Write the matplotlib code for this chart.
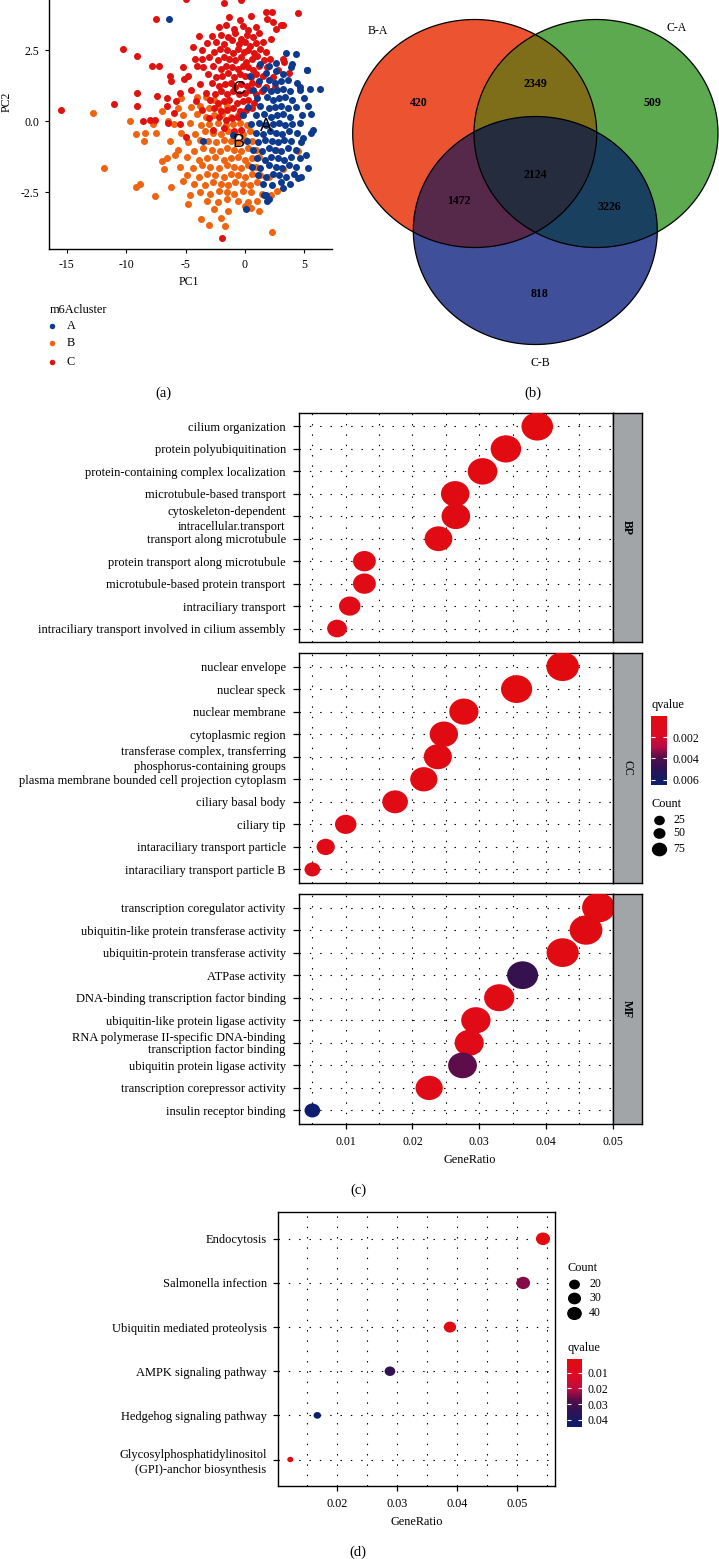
import numpy as np
import matplotlib
matplotlib.use("Agg")
import matplotlib.pyplot as plt
from matplotlib.path import Path
from matplotlib.patches import Polygon
from matplotlib.colors import LinearSegmentedColormap, Normalize
from matplotlib.cm import ScalarMappable

plt.rcParams['font.family'] = ['Liberation Serif', 'DejaVu Serif']

# ---------------- data ----------------
# (a) PCA scores
pca_a = np.array([
    (3.5, 2.4), (4.3, 2.35), (1.3, 2.0), (2.0, 1.95), (2.6, 2.05), (4.0, 2.0),
    (1.8, 1.7), (2.6, 1.75), (3.2, 1.65), (5.2, 1.8),
    (1.2, 1.4), (2.0, 1.45), (2.5, 1.35), (3.0, 1.4), (3.6, 1.45), (4.4, 1.35),
    (0.7, 1.1), (1.6, 1.15), (2.2, 1.05), (2.7, 1.1), (3.2, 1.15), (3.8, 1.05), (4.6, 1.1), (5.5, 1.15), (6.3, 1.15),
    (1.0, 0.8), (1.9, 0.85), (2.4, 0.75), (2.9, 0.8), (3.4, 0.85), (4.0, 0.75), (5.0, 0.8),
    (0.3, 0.5), (1.3, 0.55), (2.0, 0.45), (2.5, 0.5), (3.0, 0.55), (3.6, 0.45), (4.3, 0.5), (5.3, 0.55),
    (0.9, 0.2), (1.6, 0.25), (2.2, 0.15), (2.7, 0.2), (3.2, 0.25), (3.8, 0.15), (4.8, 0.2), (5.6, 0.25),
    (0.5, -0.1), (1.2, -0.05), (1.8, -0.15), (2.4, -0.1), (2.9, -0.05), (3.4, -0.15), (4.0, -0.1), (4.6, -0.05),
    (0.9, -0.4), (1.5, -0.45), (2.1, -0.35), (2.6, -0.4), (3.1, -0.45), (3.7, -0.35), (4.4, -0.4), (5.7, -0.3),
    (0.2, -0.7), (1.1, -0.75), (1.7, -0.65), (2.3, -0.7), (2.8, -0.75), (3.3, -0.65), (3.9, -0.7), (4.7, -0.75),
    (0.7, -1.0), (1.4, -1.05), (2.0, -0.95), (2.5, -1.0), (3.0, -1.05), (3.6, -0.95), (4.3, -1.0), (5.1, -1.2),
    (1.0, -1.3), (1.7, -1.35), (2.2, -1.25), (2.8, -1.3), (3.3, -1.35), (3.9, -1.25), (4.6, -1.3),
    (0.6, -1.6), (1.3, -1.65), (2.0, -1.55), (2.6, -1.6), (3.1, -1.65), (3.7, -1.55), (4.3, -1.6), (5.3, -1.65),
    (1.1, -1.9), (1.8, -1.95), (2.4, -1.85), (2.9, -1.9), (3.5, -1.95), (4.1, -1.85), (4.7, -1.95),
    (1.5, -2.2), (2.3, -2.25), (3.0, -2.15), (3.8, -2.2), (4.5, -2.0),
    (1.6, -2.6), (2.0, -2.75), (3.2, -2.35), (1.9, -2.8),
    (-6.4, 3.6), (-3.5, -0.7), (0.1, -3.1), (-1.0, -0.5), (-0.2, 0.2), (0.4, 1.6),
    (5.2, 1.8), (1.8, -2.6), (5.6, -0.4), (4.9, -0.6), (3.9, 1.9), (4.6, 1.2),
])
pca_b = np.array([
    (-3.3, 0.85), (-2.6, 0.75), (-5.4, 0.8),
    (-4.5, 0.5), (-3.8, 0.55), (-3.0, 0.45), (-2.3, 0.5), (-1.5, 0.55),
    (-5.2, 0.2), (-4.0, 0.25), (-3.3, 0.15), (-2.6, 0.2), (-1.9, 0.25), (-1.2, 0.15), (-0.6, 0.2),
    (-6.0, -0.1), (-4.6, -0.05), (-3.7, -0.15), (-3.0, -0.1), (-2.3, -0.05), (-1.6, -0.15), (-1.0, -0.1), (-0.4, -0.05), (0.2, -0.15),
    (-5.4, -0.4), (-4.2, -0.45), (-3.4, -0.35), (-2.7, -0.4), (-2.0, -0.45), (-1.4, -0.35), (-0.8, -0.4), (-0.2, -0.45), (0.4, -0.35),
    (-6.3, -0.7), (-4.8, -0.75), (-3.8, -0.65), (-3.1, -0.7), (-2.4, -0.75), (-1.8, -0.65), (-1.2, -0.7), (-0.6, -0.75), (0.0, -0.65), (0.6, -0.7),
    (-5.6, -1.0), (-4.3, -1.05), (-3.5, -0.95), (-2.8, -1.0), (-2.1, -1.05), (-1.5, -0.95), (-0.9, -1.0), (-0.3, -1.05), (0.3, -0.95), (0.9, -1.0),
    (-6.6, -1.3), (-4.9, -1.25), (-3.9, -1.35), (-3.2, -1.3), (-2.5, -1.25), (-1.8, -1.35), (-1.2, -1.3), (-0.6, -1.25), (0.0, -1.35), (0.6, -1.3), (1.2, -1.25),
    (-5.5, -1.6), (-4.4, -1.65), (-3.6, -1.55), (-2.9, -1.6), (-2.2, -1.65), (-1.5, -1.55), (-0.9, -1.6), (-0.3, -1.65), (0.3, -1.55), (0.9, -1.6),
    (-4.9, -1.9), (-3.9, -1.95), (-3.2, -1.85), (-2.5, -1.9), (-1.8, -1.95), (-1.2, -1.85), (-0.6, -1.9), (0.0, -1.95), (0.6, -1.85), (1.3, -1.9), (2.0, -1.95),
    (-4.3, -2.2), (-3.4, -2.25), (-2.7, -2.15), (-2.0, -2.2), (-1.4, -2.25), (-0.8, -2.15), (-0.2, -2.2), (0.4, -2.25), (1.0, -2.15),
    (-3.8, -2.5), (-2.9, -2.55), (-2.2, -2.45), (-1.5, -2.5), (-0.9, -2.55), (-0.2, -2.45), (0.5, -2.5), (1.4, -2.55), (2.7, -2.45),
    (-3.2, -2.8), (-2.3, -2.85), (-1.5, -2.75), (-0.6, -2.8), (0.3, -2.85), (1.0, -2.8),
    (-2.6, -3.1), (-1.4, -3.15), (0.5, -3.05), (1.2, -3.15),
    (-12.8, 0.3), (-11.9, -1.65), (-9.7, 0.0), (-9.2, -2.3), (-8.8, -2.2), (-7.6, -2.65), (-9.2, -0.45),
    (-8.4, -0.4), (-7.5, -0.4), (-8.5, -0.7), (-7.0, -1.4), (-6.8, -1.7), (-5.9, -1.2), (-5.2, -2.1),
    (-4.6, -2.6), (-3.7, -3.45), (-3.0, -3.65), (-1.7, -3.7), (2.3, -3.9), (4.5, -1.05), (-7.0, 0.35),
    (-6.5, 0.0), (-4.8, -2.9), (-2.0, -3.4), (0.0, -3.0), (2.2, -2.6), (3.2, -1.7), (2.6, -1.0),
    (-5.6, 0.45), (-4.0, 0.85), (-7.7, -0.1), (-6.2, -2.3),
])
pca_c = np.array([
    (-1.3, 3.65), (-0.4, 3.55), (0.5, 3.7), (1.9, 3.6), (2.4, 3.5),
    (-2.2, 3.3), (-1.6, 3.4), (-0.9, 3.25), (-0.2, 3.35), (0.3, 3.2), (0.9, 3.3), (2.6, 3.25), (3.2, 3.4),
    (-2.8, 3.0), (-2.0, 3.05), (-1.4, 2.95), (-0.8, 3.1), (-0.3, 2.9), (0.2, 3.05), (0.7, 2.95), (1.2, 3.1), (2.2, 2.9),
    (-3.2, 2.75), (-2.4, 2.8), (-1.8, 2.7), (-1.1, 2.85), (-0.5, 2.7), (0.0, 2.8), (0.4, 2.65), (0.9, 2.75), (1.5, 2.8),
    (-3.6, 2.5), (-2.6, 2.45), (-2.1, 2.55), (-1.5, 2.5), (-1.0, 2.4), (-0.6, 2.55), (-0.1, 2.45), (0.3, 2.5), (0.8, 2.4), (1.3, 2.55), (1.8, 2.45),
    (-4.2, 2.2), (-3.0, 2.25), (-2.3, 2.15), (-1.8, 2.25), (-1.3, 2.2), (-0.8, 2.15), (-0.3, 2.25), (0.1, 2.1), (0.6, 2.2), (1.0, 2.3), (1.6, 2.15), (2.1, 2.2), (3.2, 2.2),
    (-3.5, 1.9), (-2.7, 1.95), (-2.0, 1.85), (-1.6, 1.95), (-1.1, 1.9), (-0.6, 1.85), (-0.2, 1.95), (0.3, 1.9), (0.7, 1.8), (1.2, 1.95), (1.9, 1.9),
    (-4.8, 1.6), (-3.1, 1.65), (-2.4, 1.55), (-1.9, 1.6), (-1.4, 1.7), (-0.9, 1.55), (-0.4, 1.65), (0.0, 1.6), (0.5, 1.55), (0.9, 1.65), (1.5, 1.6), (2.4, 1.55),
    (-3.8, 1.3), (-2.8, 1.35), (-2.2, 1.25), (-1.7, 1.3), (-1.2, 1.35), (-0.8, 1.2), (-0.3, 1.3), (0.2, 1.25), (0.6, 1.35), (1.1, 1.3), (1.8, 1.2),
    (-5.5, 1.0), (-3.3, 1.0), (-2.5, 0.95), (-2.0, 1.05), (-1.5, 0.95), (-1.0, 1.05), (-0.5, 0.95), (0.0, 1.0), (0.4, 1.1), (0.9, 0.95), (1.4, 1.05),
    (-4.1, 0.7), (-2.9, 0.75), (-2.3, 0.65), (-1.8, 0.7), (-1.3, 0.75), (-0.7, 0.65), (-0.2, 0.7), (0.3, 0.75), (0.8, 0.65),
    (-3.6, 0.4), (-2.6, 0.45), (-2.0, 0.35), (-1.5, 0.4), (-1.0, 0.45), (-0.4, 0.35), (0.1, 0.4), (0.6, 0.45),
    (-3.0, 0.1), (-2.2, 0.15), (-1.6, 0.05), (-1.1, 0.1), (-0.6, 0.15),
    (-2.7, -0.3), (-1.8, -0.25), (-0.9, -0.35), (-0.3, -0.3),
    (-15.5, 0.4), (-11.0, 0.6), (-10.3, 2.55), (-9.1, 2.3), (-9.1, 1.0), (-9.1, 0.55), (-8.6, 0.0),
    (-8.0, 0.05), (-7.6, 0.05), (-7.5, 3.6), (-7.8, 1.95), (-7.2, 1.95), (-7.4, 0.9), (-6.6, 0.8),
    (-6.3, 1.6), (-6.2, 1.4), (-6.0, 0.3), (-5.5, -0.1), (-5.2, 1.9), (-5.1, 1.5), (-5.0, 4.3),
    (-5.0, -0.55), (-4.4, 2.6), (-4.0, 1.95), (-3.0, 4.4), (-1.8, 4.15), (-0.3, 4.25), (1.8, 3.85),
    (2.3, 3.85), (4.5, 3.8), (3.0, 3.4), (3.3, 2.1), (3.7, 1.7), (-1.9, -4.1), (-6.5, -0.05),
    (-3.6, 2.2), (-4.5, 1.1), (-5.8, 0.7), (-6.6, 0.55), (-3.9, 3.0), (2.8, 1.8), (2.5, 1.2),
])
cluster_names = ['A', 'B', 'C']
cluster_colors = ['#0d3a8c', '#f0640f', '#e0120f']
cluster_label_xy = [(1.75, -0.2), (-0.5, -0.75), (-0.55, 1.1)]

# (b) Venn counts
venn_sets = ['B-A', 'C-A', 'C-B']
venn_only = [420, 509, 818]
venn_pairs = {'B-A&C-A': 2349, 'B-A&C-B': 1472, 'C-A&C-B': 3226}
venn_all = 2124

# (c) GO enrichment
bp_terms = ['cilium organization', 'protein polyubiquitination',
            'protein-containing complex localization', 'microtubule-based transport',
            'cytoskeleton-dependent\nintracellular.transport', 'transport along microtubule',
            'protein transport along microtubule', 'microtubule-based protein transport',
            'intraciliary transport', 'intraciliary transport involved in cilium assembly']
bp_ratio = [0.0387, 0.0340, 0.0305, 0.0264, 0.0265, 0.0239, 0.0128, 0.0128, 0.0106, 0.0087]
bp_count = [77, 67, 60, 52, 53, 47, 25, 25, 21, 17]
bp_q = [0.0001, 0.0002, 0.0002, 0.0003, 0.0003, 0.0004, 0.0005, 0.0005, 0.0006, 0.0007]

cc_terms = ['nuclear envelope', 'nuclear speck', 'nuclear membrane', 'cytoplasmic region',
            'transferase complex, transferring\nphosphorus-containing groups',
            'plasma membrane bounded cell projection cytoplasm', 'ciliary basal body',
            'ciliary tip', 'intaraciliary transport particle', 'intaraciliary transport particle B']
cc_ratio = [0.0425, 0.0356, 0.0277, 0.0247, 0.0238, 0.0217, 0.0174, 0.0100, 0.0070, 0.0050]
cc_count = [87, 73, 57, 51, 49, 44, 36, 21, 14, 10]
cc_q = [0.00002, 0.0001, 0.0002, 0.0003, 0.0003, 0.0004, 0.0005, 0.0006, 0.0007, 0.0008]

mf_terms = ['transcription coregulator activity', 'ubiquitin-like protein transferase activity',
            'ubiquitin-protein transferase activity', 'ATPase activity',
            'DNA-binding transcription factor binding', 'ubiquitin-like protein ligase activity',
            'RNA polymerase II-specific DNA-binding\ntranscription factor binding',
            'ubiquitin protein ligase activity', 'transcription corepressor activity',
            'insulin receptor binding']
mf_ratio = [0.0479, 0.0460, 0.0425, 0.0365, 0.0330, 0.0295, 0.0285, 0.0275, 0.0225, 0.0050]
mf_count = [94, 90, 83, 72, 65, 58, 56, 54, 44, 10]
mf_q = [0.0002, 0.0003, 0.0004, 0.0047, 0.0005, 0.0006, 0.0007, 0.0038, 0.0008, 0.0064]

# (d) KEGG enrichment
kegg_terms = ['Endocytosis', 'Salmonella infection', 'Ubiquitin mediated proteolysis',
              'AMPK signaling pathway', 'Hedgehog signaling pathway',
              'Glycosylphosphatidylinositol\n(GPI)-anchor biosynthesis']
kegg_ratio = [0.0543, 0.0510, 0.0388, 0.0288, 0.0167, 0.0122]
kegg_count = [43, 41, 31, 23, 13, 10]
kegg_q = [0.0020, 0.0240, 0.0035, 0.0335, 0.0434, 0.0015]

# ---------------- figure ----------------
W, H = 719, 1559
fig = plt.figure(figsize=(W / 100, H / 100), dpi=100)


def box(l, t, r, b):
    return [l / W, 1 - b / H, (r - l) / W, (b - t) / H]


ov = fig.add_axes([0, 0, 1, 1])
ov.set_xlim(0, W)
ov.set_ylim(H, 0)
ov.axis('off')

qcmap = LinearSegmentedColormap.from_list('q', [
    (0, '#e10b0f'), (0.25, '#de0a22'), (0.45, '#b80b44'), (0.58, '#5e0d49'),
    (0.72, '#35114f'), (0.88, '#1a1862'), (1, '#0a1f6e')])

uc = Path.unit_circle()
ell = Path(uc.vertices * np.array([1.12, 1.0]), uc.codes)


def s_of(d):
    return (np.asarray(d) * 0.72) ** 2


# ---- (a) PCA ----
ax = fig.add_axes(box(49, -45, 332, 249))
for pts, col in [(pca_b, cluster_colors[1]), (pca_c, cluster_colors[2]), (pca_a, cluster_colors[0])]:
    ax.scatter(pts[:, 0], pts[:, 1], s=s_of(7), color=col, linewidths=0, zorder=2)
for nm, (x, y) in zip(cluster_names, cluster_label_xy):
    ax.text(x, y, nm, fontsize=13, family='Liberation Sans', ha='center', va='center', zorder=3)
ax.set_xlim(-16.49, 7.33)
ax.set_ylim(-4.5, 5.85)
ax.set_xticks([-15, -10, -5, 0, 5])
ax.set_xticklabels(['-15', '-10', '-5', '0', '5'])
ax.set_yticks([-2.5, 0, 2.5])
ax.set_yticklabels(['-2.5', '0.0', '2.5'])
ax.tick_params(labelsize=8.5, length=3, width=0.8, pad=4)
for sp in ['top', 'right']:
    ax.spines[sp].set_visible(False)
for sp in ['left', 'bottom']:
    ax.spines[sp].set_linewidth(1.0)
ov.text(189, 282, 'PC1', fontsize=8.5, ha='center', va='center')
ov.text(7, 102, 'PC2', fontsize=8.5, ha='center', va='center', rotation=90)
ov.text(50, 310, 'm6Acluster', fontsize=8.8, ha='left', va='center')
for i, (nm, col) in enumerate(zip(cluster_names, cluster_colors)):
    yy = [326, 343.3, 361.7][i]
    ov.scatter([52.3], [yy], s=s_of(5.5), color=col, linewidths=0)
    ov.text(66.7, yy, nm, fontsize=8.8, ha='left', va='center')

# ---- (b) Venn ----
vx = fig.add_axes(box(350, 0, 719, 370))
vx.set_xlim(350, 719)
vx.set_ylim(370, 0)
vx.axis('off')
centers = [(474.7, 133.5), (596.0, 133.5), (535.3, 230.5)]
ew, eh = 244, 228
tt = np.linspace(0, 2 * np.pi, 240, endpoint=False)
polys = [np.column_stack([cx + ew / 2 * np.cos(tt), cy + eh / 2 * np.sin(tt)]) for cx, cy in centers]


def cross(u, v):
    return u[0] * v[1] - u[1] * v[0]


def clip_poly(subject, clipper):
    out = list(subject)
    n = len(clipper)
    for i in range(n):
        a, b = clipper[i], clipper[(i + 1) % n]
        e = b - a
        inp, out = out, []
        if not inp:
            break

        def inside(p):
            return cross(e, p - a) >= 0

        s = inp[-1]
        for p in inp:
            if inside(p):
                if not inside(s):
                    out.append(s + (p - s) * cross(e, a - s) / cross(e, p - s))
                out.append(p)
            elif inside(s):
                out.append(s + (p - s) * cross(e, a - s) / cross(e, p - s))
            s = p
    return np.array(out)


face = ['#ec5331', '#5ca94f', '#404f9a']
for p, c in zip(polys, face):
    vx.add_patch(Polygon(p, closed=True, facecolor=c, edgecolor='none'))
pair_idx = [(0, 1, '#7e6d19'), (0, 2, '#56284a'), (1, 2, '#1a405f')]
for i, j, c in pair_idx:
    vx.add_patch(Polygon(clip_poly(polys[i], polys[j]), closed=True, facecolor=c, edgecolor='none'))
tri = clip_poly(clip_poly(polys[0], polys[1]), polys[2])
vx.add_patch(Polygon(tri, closed=True, facecolor='#242c3e', edgecolor='none'))
for p in polys:
    vx.add_patch(Polygon(p, closed=True, facecolor='none', edgecolor='black', linewidth=0.9))

num_xy = {'only0': (419, 103.3), 'only1': (652.7, 103.3), 'only2': (540, 294),
          'B-A&C-A': (535, 84), 'B-A&C-B': (459, 201), 'C-A&C-B': (609, 206.7), 'all': (535, 175)}
for k, v in enumerate(venn_only):
    vx.text(*num_xy['only%d' % k], str(v), fontsize=8.6, fontweight='bold', ha='center', va='center')
for key, v in venn_pairs.items():
    vx.text(*num_xy[key], str(v), fontsize=8.6, fontweight='bold', ha='center', va='center')
vx.text(*num_xy['all'], str(venn_all), fontsize=8.6, fontweight='bold', ha='center', va='center')
for nm, xy in zip(venn_sets, [(378, 31), (677, 28), (540, 362.7)]):
    vx.text(*xy, nm, fontsize=8.5, ha='center', va='center')

# panel labels
for lab, xy in [('(a)', (163, 393)), ('(b)', (532.7, 393)), ('(c)', (358, 1190)), ('(d)', (358, 1552))]:
    ov.text(*xy, lab, fontsize=10.5, ha='center', va='center')

# ---- (c) GO dot plot ----
norm_c = Normalize(0.00002, 0.0065)


def d_go(c):
    return 7.8 * np.log(np.asarray(c, float)) - 2.3


dot_ls = (0, (1.3, 8))
panels = [(413, 642, bp_terms, bp_ratio, bp_count, bp_q, 'BP', 'bold', 1.35),
          (653, 883, cc_terms, cc_ratio, cc_count, cc_q, 'CC', 'normal', 1.35),
          (894, 1124, mf_terms, mf_ratio, mf_count, mf_q, 'MF', 'bold', 1.0)]
for k, (top, bot, terms, ratio, cnt, qv, strip, fw, lsp) in enumerate(panels):
    gx = fig.add_axes(box(299, top, 612.7, bot))
    n = len(terms)
    ypos = np.arange(n, 0, -1)
    for v in np.arange(0.005, 0.0501, 0.005):
        gx.axvline(v, color='black', lw=0.8, ls=dot_ls, zorder=1)
    for y in ypos:
        gx.axhline(y, color='black', lw=0.8, ls=dot_ls, zorder=1)
    gx.scatter(ratio, ypos, s=s_of(d_go(cnt)), c=qv, cmap=qcmap, norm=norm_c,
               marker=ell, linewidths=0, zorder=3)
    gx.set_xlim(0.0030, 0.0500)
    gx.set_ylim(0.4, n + 0.6)
    gx.set_yticks(ypos)
    gx.set_yticklabels(terms, fontsize=9, linespacing=lsp)
    gx.set_xticks([0.01, 0.02, 0.03, 0.04, 0.05])
    gx.set_xticklabels(['0.01', '0.02', '0.03', '0.04', '0.05'])
    gx.tick_params(axis='y', length=4.5, width=0.9, pad=5)
    gx.tick_params(axis='x', length=3.5, width=0.9, pad=5, labelsize=8.5)
    if k < 2:
        gx.tick_params(axis='x', bottom=False, labelbottom=False)
    for sp in gx.spines.values():
        sp.set_linewidth(1.0)
    sx = fig.add_axes(box(612.7, top, 641.7, bot))
    sx.set_facecolor('#a2a5a8')
    sx.set_xticks([])
    sx.set_yticks([])
    for sp in sx.spines.values():
        sp.set_linewidth(1.0)
    sx.text(0.5, 0.5, strip, transform=sx.transAxes, rotation=-90, fontsize=8.5,
            fontweight=fw, ha='center', va='center')
ov.text(470, 1160, 'GeneRatio', fontsize=8.8, ha='center', va='center')

# (c) legends
ov.text(651, 705, 'qvalue', fontsize=8.8, ha='left', va='center')
cax = fig.add_axes(box(651, 716, 666.7, 785))
cb = fig.colorbar(ScalarMappable(norm=norm_c, cmap=qcmap), cax=cax)
cb.outline.set_visible(False)
cb.set_ticks([0.002, 0.004, 0.006])
cb.set_ticklabels(['0.002', '0.004', '0.006'])
cax.invert_yaxis()
cax.tick_params(left=True, right=True, labelleft=False, labelright=True, direction='in',
                color='white', length=3, width=0.8, labelsize=8.5, pad=4.5)
ov.text(652, 804, 'Count', fontsize=8.8, ha='left', va='center')
for lab, yy, dd in zip(['25', '50', '75'], [820, 833.3, 849], [10.7, 12, 15.3]):
    ov.scatter([659.3], [yy], s=s_of(dd), color='black', marker=ell, linewidths=0)
    ov.text(673, yy, lab, fontsize=8.5, ha='left', va='center')

# ---- (d) KEGG dot plot ----
norm_d = Normalize(0.0015, 0.0447)


def d_kegg(c):
    return 5.5 * np.log(np.asarray(c, float)) - 6.6


kx = fig.add_axes(box(278.3, 1212.3, 555, 1486))
ky = np.arange(len(kegg_terms), 0, -1)
for v in np.arange(0.015, 0.0561, 0.005):
    kx.axvline(v, color='black', lw=0.8, ls=dot_ls, zorder=1)
for y in ky:
    kx.axhline(y, color='black', lw=0.8, ls=dot_ls, zorder=1)
kx.scatter(kegg_ratio, ky, s=s_of(d_kegg(kegg_count)), c=kegg_q, cmap=qcmap, norm=norm_d,
           marker=ell, linewidths=0, zorder=3)
kx.set_xlim(0.0102, 0.0563)
kx.set_ylim(0.4, len(kegg_terms) + 0.6)
kx.set_yticks(ky)
kx.set_yticklabels(kegg_terms, fontsize=9, linespacing=1.35)
kx.set_xticks([0.02, 0.03, 0.04, 0.05])
kx.set_xticklabels(['0.02', '0.03', '0.04', '0.05'])
kx.tick_params(axis='y', length=3.6, width=0.9, pad=4.8)
kx.tick_params(axis='x', length=3.5, width=0.9, pad=5, labelsize=8.8)
for sp in kx.spines.values():
    sp.set_linewidth(1.0)
ov.text(416.7, 1521.7, 'GeneRatio', fontsize=8.8, ha='center', va='center')

ov.text(567, 1268.3, 'Count', fontsize=8.8, ha='left', va='center')
for lab, yy, cc in zip(['20', '30', '40'], [1284.3, 1298.3, 1313.3], [20, 30, 40]):
    ov.scatter([574], [yy], s=s_of(d_kegg(cc) + 1), color='black', marker=ell, linewidths=0)
    ov.text(589, yy, lab, fontsize=8.5, ha='left', va='center')
ov.text(567, 1348.3, 'qvalue', fontsize=8.8, ha='left', va='center')
cax2 = fig.add_axes(box(566.7, 1359.3, 581.7, 1427.3))
cb2 = fig.colorbar(ScalarMappable(norm=norm_d, cmap=qcmap), cax=cax2)
cb2.outline.set_visible(False)
cb2.set_ticks([0.01, 0.02, 0.03, 0.04])
cb2.set_ticklabels(['0.01', '0.02', '0.03', '0.04'])
cax2.invert_yaxis()
cax2.tick_params(left=True, right=True, labelleft=False, labelright=True, direction='in',
                 color='white', length=3, width=0.8, labelsize=8.5, pad=4.5)

fig.savefig('out.png', dpi=100)
